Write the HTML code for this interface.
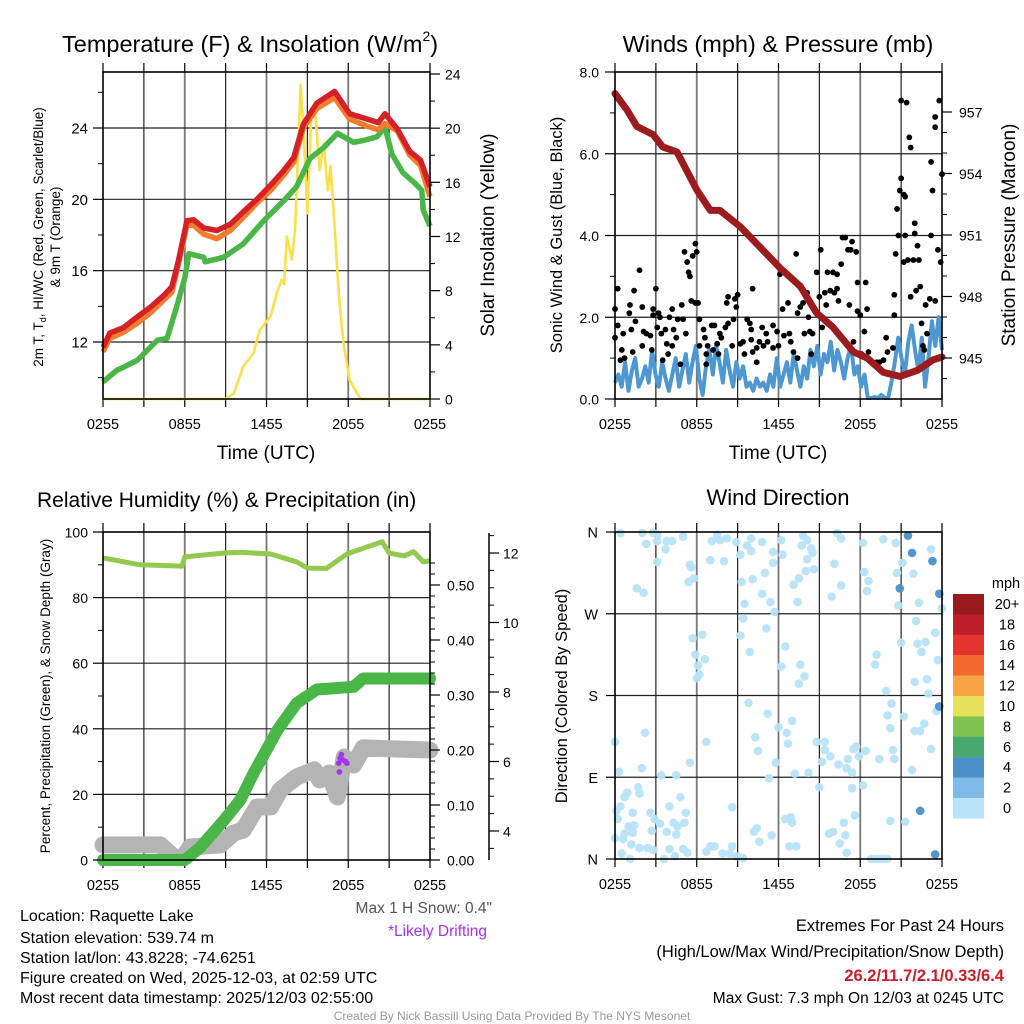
<!DOCTYPE html>
<html><head><meta charset="utf-8"><style>
html,body{margin:0;padding:0;background:#fff;}
svg{display:block;font-family:"Liberation Sans",Arial,sans-serif;}
</style></head><body>
<svg id="fig" width="1024" height="1024" viewBox="0 0 1024 1024" xmlns="http://www.w3.org/2000/svg">
<rect x="0" y="0" width="1024" height="1024" fill="#fff"/>
<g id="p1"></g>
<g id="p2"></g>
<g id="p3"></g>
<g id="p4"></g>
<g id="txt">
<text x="20" y="921" font-size="16">Location: Raquette Lake</text>
<text x="20" y="943" font-size="16">Station elevation: 539.74 m</text>
<text x="20" y="963" font-size="16">Station lat/lon: 43.8228; -74.6251</text>
<text x="20" y="983" font-size="16">Figure created on Wed, 2025-12-03, at 02:59 UTC</text>
<text x="20" y="1003" font-size="16">Most recent data timestamp: 2025/12/03 02:55:00</text>
<text x="492" y="913" font-size="15.5" fill="#555" text-anchor="end">Max 1 H Snow: 0.4"</text>
<text x="487" y="936" font-size="15.5" fill="#a433f0" text-anchor="end">*Likely Drifting</text>
<text x="1004" y="931" font-size="16.5" text-anchor="end">Extremes For Past 24 Hours</text>
<text x="1004" y="957" font-size="16.5" text-anchor="end">(High/Low/Max Wind/Precipitation/Snow Depth)</text>
<text x="1004" y="981" font-size="16.5" font-weight="bold" fill="#c8202a" text-anchor="end">26.2/11.7/2.1/0.33/6.4</text>
<text x="1004" y="1003" font-size="15.5" text-anchor="end">Max Gust: 7.3 mph On 12/03 at 0245 UTC</text>
<text x="512" y="1020" font-size="12" fill="#999" text-anchor="middle">Created By Nick Bassill Using Data Provided By The NYS Mesonet</text>
</g>
</svg>
<script>
// ---------- DATA ----------
const xTickLabels = ["0255","0855","1455","2055","0255"];
// Panel 1
const tempHours = [0,0.5,1.5,2.5,3.5,4.45,5.06,5.55,6.16,6.65,7.38,8.36,9.34,10.3,11.3,12.3,13.25,14.0,14.7,15.7,17.0,18.1,19.4,20.2,20.7,21.6,22.5,23.3,24];
const temp2m = [11.7,12.5,12.8,13.4,13.96,14.6,15.1,16.6,18.8,18.85,18.4,18.25,18.6,19.3,20.0,20.8,21.6,22.35,24.2,25.4,26.05,24.8,24.5,24.3,24.8,23.95,22.7,22.2,20.7];
const temp9m = [11.45,12.2,12.55,13.05,13.65,14.35,14.8,16.4,18.55,18.55,18.05,17.8,18.25,19.0,19.8,20.5,21.35,22.1,24.0,25.1,25.7,24.5,24.1,23.9,24.25,23.85,22.5,21.9,20.15];
const dewHours = [0,1.0,2.5,4.0,4.7,5.4,6.0,6.3,7.4,7.5,8.85,10.3,11.8,13.25,14.2,15.2,16.2,17.2,18.4,19.1,20.1,20.7,21.2,22.0,22.9,23.4,23.5,24];
const dewpoint = [9.76,10.4,10.97,12.1,12.2,13.96,15.6,16.95,16.75,16.5,16.75,17.5,18.8,19.9,20.7,22.3,22.9,23.7,23.2,23.3,23.5,24.05,22.55,21.5,20.9,20.5,19.4,18.5];
const solHours = [0,8.97,9.6,10.3,11.05,11.5,12.3,12.75,13.1,13.3,13.5,13.86,14.1,14.5,14.7,15.0,15.3,15.6,15.9,16.2,16.5,16.7,17.0,17.3,17.65,18.1,18.9,24];
const solar = [0,0,0.4,2.4,3.4,5.1,6.1,7.8,8.8,8.5,12,10.3,12.5,23.2,20.1,13.7,21.5,20.9,16.9,18.9,15.4,17.2,12.7,7.8,4.1,1.4,0,0];
// Panel 2
const presHours = [0,0.88,1.6,2.8,3.5,4.55,6.0,7.0,7.7,9.2,12.1,13.6,14.8,16.0,17.5,18.5,19.7,20.9,22.2,23.3,24];
const pressure = [957.9,957.1,956.3,955.9,955.3,955.05,953.2,952.2,952.2,951.4,949.4,948.5,947.2,946.5,945.3,945.0,944.3,944.1,944.4,944.9,945.05];
const sonicWind = [0.4,0.6,0.3,0.9,0.2,0.7,1.0,0.3,0.5,0.8,0.4,1.2,0.6,0.3,0.9,0.5,0.2,0.6,1.0,0.3,0.7,1.1,0.4,0.9,1.3,0.5,0.1,0.8,1.2,0.6,1.3,0.9,0.4,1.2,0.7,0.3,0.9,0.5,0.8,0.3,0.4,0.2,0.5,0.3,0.4,0.2,0.6,0.3,1.0,0.3,0.6,0.9,0.4,1.1,0.7,0.3,0.8,0.5,1.2,0.8,1.3,0.6,1.1,0.9,1.4,0.7,1.2,0.9,0.5,1.0,1.3,0.6,0.8,0.3,0.6,0.0,0.0,0.05,0.0,0.1,0.0,0.0,0.4,0.9,1.5,1.0,0.6,1.4,1.8,1.2,0.7,1.5,0.3,1.0,1.9,1.3,2.0,1.2];
const gustHours = [
0,0,0.2,0.2,0.5,0.6,0.4,0.7,1.1,1.05,
1.3,1.2,1.4,1.5,1.8,2.0,2.1,2.0,2.3,2.6,
2.8,2.8,3.0,2.7,3.2,3.1,3.3,3.4,3.5,3.7,
3.8,3.9,4.0,4.2,4.3,4.2,4.5,4.6,4.8,4.9,
5.0,5.1,5.2,5.3,5.4,5.5,5.7,5.6,5.9,6.0,
5.9,6.1,6.2,6.2,6.5,6.6,6.7,6.7,6.8,7.1,
7.3,7.2,7.5,7.7,7.8,7.6,8.1,8.2,8.3,8.3,
8.6,8.7,8.8,8.9,9.0,9.2,9.4,9.5,9.7,9.9,
10.0,10.1,10.0,10.1,10.4,10.4,10.6,10.8,10.9,11.1,
11.2,11.6,11.6,11.9,12.0,12.1,12.3,12.4,12.7,12.8,
12.9,13.1,13.3,13.4,13.4,13.6,13.8,13.9,14.1,14.2,
14.3,14.4,14.5,14.8,15.0,15.1,15.2,15.4,15.5,15.6,
15.8,16.0,16.3,16.1,16.3,16.4,16.6,16.7,16.9,17.1,
17.3,17.4,17.7,17.2,17.5,17.8,17.8,18.0,18.1,18.3,
18.4,18.5,18.6,19.2,19.4,19.7,19.9,20.0,20.4,20.5,
20.5,20.6,20.7,20.8,20.9,21.0,21.0,21.2,21.3,21.2,
21.3,21.4,21.5,21.6,21.7,21.7,21.9,22.0,22.0,22.1,
22.2,22.3,22.4,22.5,22.6,22.7,22.8,22.9,23.1,23.2,
23.2,23.3,23.5,23.5,23.5,23.7,23.8,23.9,24];
const gustSpeed = [
1.5,2.2,2.7,1.8,1.2,1.6,0.95,1.0,2.3,2.1,
1.15,1.7,2.65,1.9,3.15,2.25,1.65,1.3,1.6,1.55,
2.2,2.05,2.7,1.2,2.1,1.75,2.0,1.6,0.95,1.7,
1.35,1.1,2.0,2.2,1.7,1.3,1.5,1.95,0.85,2.3,
1.95,3.6,1.6,3.35,3.1,3.0,3.5,2.4,3.8,3.6,
2.35,2.35,1.95,1.3,1.7,1.5,0.85,1.1,1.3,1.8,
1.8,1.2,1.35,1.6,1.5,1.1,1.75,2.35,2.5,1.85,
1.3,1.95,2.45,2.25,2.55,1.35,1.4,1.1,1.95,1.85,
1.7,2.7,1.45,1.15,1.25,0.9,1.4,1.75,1.3,1.6,
1.4,1.8,1.25,1.65,1.3,3.05,2.2,1.55,2.35,1.6,
1.4,1.15,3.55,2.1,1.0,2.25,2.35,1.6,2.6,2.0,
1.65,1.1,1.6,3.1,2.5,3.65,1.75,2.6,2.3,3.1,
2.65,3.1,3.05,2.6,2.7,2.4,3.3,3.95,3.95,3.65,
3.65,3.85,3.6,2.3,1.4,2.85,2.15,2.05,1.1,1.65,
2.85,2.2,1.15,0.9,0.9,0.95,1.5,1.15,1.25,2.55,
2.05,3.55,4.65,4.0,5.1,5.4,7.3,5.0,4.95,3.35,
4.0,7.25,3.4,6.4,6.15,2.5,3.4,4.05,4.3,2.65,
3.75,3.4,2.75,1.85,1.3,1.2,2.3,1.6,2.45,4.0,
5.8,5.1,6.65,6.9,2.4,3.65,7.3,3.35,5.5];
// Panel 3
const rhHours = [0,2.7,5.8,6.0,8.9,10.1,12.3,14.2,15.0,16.4,17.9,19.4,20.5,21.0,22.1,22.8,23.5,24];
const humidity = [92.1,90.0,89.6,92.4,93.6,93.8,93.3,90.9,89.0,88.9,93.3,95.5,97.0,93.6,92.7,94.0,90.9,91.2];
const precipHours = [0,6.0,7.1,8.9,10.1,11.05,12.8,14.2,15.7,18.4,19.1,24];
const precip = [0,0,0.022,0.073,0.11,0.158,0.236,0.285,0.31,0.315,0.33,0.33];
const snowHours = [0,4.2,5.2,5.9,6.4,8.6,9.6,10.3,11.3,12.3,13.0,14.2,15.5,15.9,16.6,17.2,17.7,18.4,19.1,24];
const snowDepth = [3.6,3.6,3.25,3.25,3.54,3.6,3.94,4.03,4.69,4.69,5.18,5.55,5.76,5.47,5.67,4.98,6.13,5.9,6.39,6.33];
const driftHours = [17.3,17.4,17.5,17.6,17.8,17.9,17.35];
const driftDepth = [5.95,6.1,6.2,6.05,6.0,5.95,5.7];
// Panel 4
const dirHours = [0.4,2.0,2.3,2.8,3.1,3.1,3.7,3.8,4.2,5.0,3.1,1.6,2.1,5.5,5.6,5.4,5.8,7.1,7.5,7.7,8.2,7.0,8.0,8.9,9.2,10.0,9.7,10.0,10.8,11.6,12.2,12.3,11.6,11.0,10.1,9.3,9.5,10.8,11.4,11.7,13.1,13.5,13.4,13.8,14.1,13.7,14.4,14.5,14.1,14.0,14.6,16.3,16.6,16.1,16.6,15.9,18.2,18.3,18.6,18.5,19.7,20.6,20.7,20.9,20.8,21.1,21.5,21.8,21.9,22.3,23.2,23.3,23.8,24.0,
9.4,9.2,11.1,12.5,12.2,13.6,13.9,13.5,9.9,5.7,6.4,5.9,6.6,6.1,6.2,6.0,19.2,19.1,19.9,21.0,22.1,23.5,22.2,22.8,22.5,23.7,22.0,22.9,23.0,
9.8,11.2,12.0,13.0,12.6,12.7,10.3,10.5,11.8,11.3,13.2,14.2,14.8,15.4,15.4,15.8,15.2,16.4,17.1,17.5,17.7,18.4,17.9,17.0,17.4,19.4,20.5,20.4,20.2,20.0,20.3,21.2,22.0,22.4,22.7,23.2,23.6,23.8,21.8,2.2,0,0.3,1.96,3.4,4.5,5.5,6.7,
1.7,1.8,0.9,0.7,0.4,0.1,0.2,1.3,1.0,1.4,1.3,0.7,0.6,0,1.2,0.5,1.1,1.8,2.4,2.8,2.6,2.9,2.7,3.3,3.8,4.0,4.8,5.2,5.1,4.3,4.6,4.5,4.0,5.0,5.3,3.6,4.4,7.0,7.3,6.7,7.9,8.6,8.4,8.9,9.4,8.6,10.2,10.4,10.6,11.5,12.5,12.9,13.0,12.8,13.3,15.0,15.7,16.0,16.9,16.5,16.8,17.6,17.0,17.4,18.2,18.8,19.1,19.4,19.7,20.0,20.2,21.3,22.4,23.5,21.6];
const dirDeg = [359,359,347,359,357,350,341,350,350,355,327,298,293,324,321,305,309,350,357,351,353,329,328,349,335,353,345,339,349,338,351,335,326,315,308,305,281,292,283,272,302,309,283,356,351,345,342,337,330,317,319,359,353,325,301,289,348,316,306,295,352,348,315,298,279,326,356,337,314,282,341,328,292,276,
265,246,254,234,212,214,201,193,228,243,247,225,220,213,203,199,225,214,185,238,262,249,237,239,228,219,195,198,182,
172,160,145,152,139,127,134,119,106,89,94,95,129,129,120,113,107,104,110,121,124,119,113,100,95,110,110,120,144,158,171,157,141,141,149,121,163,168,98,139,129,96,100,92,92,106,129,
79,72,73,68,58,53,44,51,36,37,29,28,22,23,16,6,0,12,12,10,51,44,31,39,30,58,68,51,40,40,36,27,11,11,7,0,3,14,14,8,6,14,6,3,1,57,30,34,19,26,44,46,40,14,14,79,28,30,26,17,40,48,7,78,81,0,0,0,0,0,42,41,53,5];
const dirSpeed = [0,0,0,0,0,0,0,0,0,0,0,0,0,0,0,0,0,0,0,0,0,0,0,0,0,0,0,0,0,0,0,0,0,0,0,0,0,0,0,0,0,0,0,0,0,0,0,0,0,0,0,0,0,0,0,0,0,0,0,0,0,0,0,3,0,0,3,3,0,0,0,3,3,0,
0,0,0,0,0,0,0,0,0,0,0,0,0,0,0,0,0,0,0,0,0,0,0,0,0,0,0,0,0,
0,0,0,0,0,0,0,0,0,0,0,0,0,0,0,0,0,0,0,0,0,0,0,0,0,0,0,0,0,0,0,0,0,0,0,0,0,3,0,0,0,0,0,0,0,0,0,
0,0,0,0,0,0,0,0,0,0,0,0,0,0,0,0,0,0,0,0,0,0,0,0,0,0,0,0,0,0,0,0,0,0,0,0,0,0,0,0,0,0,0,0,0,0,0,0,0,0,0,0,0,0,0,0,0,0,0,0,0,0,0,0,0,0,0,0,0,0,0,0,3,4];
const legendLabels = ["20+","18","16","14","12","10","8","6","4","2","0"];
const legendColors = ["#961a1e","#bd1f2a","#e2352d","#f26a2e","#f8a546","#e7e05a","#80c24f","#48a870","#4b8fc8","#7fbbe6","#b8e3f8"];

// ---------- HELPERS ----------
const NS="http://www.w3.org/2000/svg";
function mk(parent,tag,attrs){const e=document.createElementNS(NS,tag);for(const k in attrs)e.setAttribute(k,attrs[k]);parent.appendChild(e);return e;}
function scale(d0,d1,r0,r1){return v=>r0+(v-d0)/(d1-d0)*(r1-r0);}
function pathOf(xs,ys,fx,fy){return xs.map((h,i)=>(i?"L":"M")+fx(h).toFixed(1)+","+fy(ys[i]).toFixed(1)).join("");}

function frame(g,X0,X1,Y0,Y1,hGrid){
  for(let h=3;h<24;h+=3){const x=X0+h/24*(X1-X0);
    const l=mk(g,"line",{x1:x,x2:x,y1:Y0,y2:Y1,stroke:h%6?"#222":"#777","stroke-width":h%6?1.2:1.8});
    
    }
  hGrid.forEach(y=>{const l=mk(g,"line",{x1:X0,x2:X1,y1:y,y2:y,stroke:"#222","stroke-width":1.2});
    
    });
  for(let h=0;h<=24;h+=3){const x=X0+h/24*(X1-X0);
    mk(g,"line",{x1:x,x2:x,y1:Y0,y2:Y0-9,stroke:"#000","stroke-width":1.2});
    mk(g,"line",{x1:x,x2:x,y1:Y1,y2:Y1+8,stroke:"#000","stroke-width":1.2});}
  xTickLabels.forEach((t,i)=>{const x=X0+i*6/24*(X1-X0);
    const e=mk(g,"text",{x:x,y:Y1+30,"font-size":14.5,"text-anchor":"middle"});e.textContent=t;
    
    });
}
function border(g,X0,X1,Y0,Y1){
  const r=mk(g,"rect",{x:X0,y:Y0,width:X1-X0,height:Y1-Y0,fill:"none",stroke:"#000","stroke-width":1.6});
  
  
}
function yTicks(g,x,dir,fy,majors,minors,labels,lx,anchor,fs){
  minors.forEach(v=>mk(g,"line",{x1:x,x2:x+dir*5,y1:fy(v),y2:fy(v),stroke:"#000","stroke-width":1}));
  majors.forEach((v,i)=>{mk(g,"line",{x1:x,x2:x+dir*10,y1:fy(v),y2:fy(v),stroke:"#000","stroke-width":1.2});
    if(labels){const t=mk(g,"text",{x:lx,y:fy(v)+5.5,"font-size":fs||15,"text-anchor":anchor});t.textContent=labels[i];
      
      }});
}
function txt(g,s,attrs,name){const t=mk(g,"text",attrs);t.textContent=s;
  
  return t;}
function rng(a,b,s){const r=[];for(let v=a;v<=b+1e-9;v+=s)r.push(+v.toFixed(4));return r;}

// ---------- PANEL 1 ----------
(function(){
  const g=document.getElementById("p1");const X0=103,X1=430,Y0=72,Y1=399;
  const fx=scale(0,24,X0,X1), fT=scale(12,24,342,128), fS=scale(0,24,399,74);
  frame(g,X0,X1,Y0,Y1,[12,16,20,24].map(fT));
  const so=mk(g,"path",{d:pathOf(solHours,solar,fx,fS),fill:"none",stroke:"#fbe04e","stroke-width":2.6,"stroke-linejoin":"round"});
  
  
  const dw=mk(g,"path",{d:pathOf(dewHours,dewpoint,fx,fT),fill:"none",stroke:"#4ab648","stroke-width":5.5,"stroke-linejoin":"round"});
  
  
  const t9=mk(g,"path",{d:pathOf(tempHours,temp9m,fx,fT),fill:"none",stroke:"#f57c2c","stroke-width":5.5,"stroke-linejoin":"round"});
  
  
  const t2=mk(g,"path",{d:pathOf(tempHours,temp2m,fx,fT),fill:"none",stroke:"#d42127","stroke-width":5.5,"stroke-linejoin":"round"});
  
  
  border(g,X0,X1,Y0,Y1);
  yTicks(g,X0,-1,fT,[12,16,20,24],[10,14,18,22,26],["12","16","20","24"],X0-15,"end",15);
  yTicks(g,X1,1,fS,rng(0,24,4),rng(2,22,4),rng(0,24,4).map(String),X1+15,"start",14);
  const ti=mk(g,"text",{x:62,y:52,"font-size":23.5});
  
  
  ti.innerHTML='Temperature (F) &amp; Insolation (W/m<tspan font-size="14" dy="-11">2</tspan><tspan dy="11">)</tspan>';
  txt(g,"Time (UTC)",{x:266,y:459,"font-size":19,"text-anchor":"middle"},"x-axis-title");
  const yl=mk(g,"text",{transform:"translate(43,237) rotate(-90)","font-size":13.5,"text-anchor":"middle"});
  
  
  yl.innerHTML='2m T, T<tspan font-size="9" dy="3">d</tspan><tspan dy="-3">, HI/WC (Red, Green, Scarlet/Blue)</tspan>';
  txt(g,"& 9m T (Orange)",{transform:"translate(60,237) rotate(-90)","font-size":13.5,"text-anchor":"middle"},"y-axis-title-2");
  txt(g,"Solar Insolation (Yellow)",{transform:"translate(494,235) rotate(-90)","font-size":19,"text-anchor":"middle"},"y2-axis-title");
})();

// ---------- PANEL 2 ----------
(function(){
  const g=document.getElementById("p2");const X0=615,X1=942,Y0=72,Y1=399;
  const fx=scale(0,24,X0,X1), fW=scale(0,8,399,72), fP=scale(945,957,358,112);
  frame(g,X0,X1,Y0,Y1,[2,4,6].map(fW));
  const n=sonicWind.length;
  const sw=mk(g,"path",{d:sonicWind.map((v,i)=>(i?"L":"M")+fx(i*24/(n-1)).toFixed(1)+","+Math.min(fW(v),398).toFixed(1)).join(""),fill:"none",stroke:"#4f97d0","stroke-width":4,"stroke-linejoin":"round"});
  
  
  const m=Math.min(gustHours.length,gustSpeed.length);
  for(let i=0;i<m;i++){const c=mk(g,"circle",{cx:fx(gustHours[i]),cy:fW(gustSpeed[i]),r:2.9,fill:"#000"});
    
    }
  const pr=mk(g,"path",{d:pathOf(presHours,pressure,fx,fP),fill:"none",stroke:"#9b1b1e","stroke-width":7,"stroke-linejoin":"round","stroke-linecap":"round"});
  
  
  border(g,X0,X1,Y0,Y1);
  yTicks(g,X0,-1,fW,[0,2,4,6,8],[1,3,5,7],["0.0","2.0","4.0","6.0","8.0"],X0-16,"end",14);
  yTicks(g,X1,1,fP,rng(945,957,3),rng(944,957,1),rng(945,957,3).map(String),X1+17,"start",14);
  txt(g,"Winds (mph) & Pressure (mb)",{x:778,y:52,"font-size":23.5,"text-anchor":"middle"},"panel-title");
  txt(g,"Time (UTC)",{x:778,y:459,"font-size":19,"text-anchor":"middle"},"x-axis-title");
  txt(g,"Sonic Wind & Gust (Blue, Black)",{transform:"translate(562,235) rotate(-90)","font-size":16.5,"text-anchor":"middle"},"y-axis-title");
  txt(g,"Station Pressure (Maroon)",{transform:"translate(1015,235) rotate(-90)","font-size":19,"text-anchor":"middle"},"y2-axis-title");
})();

// ---------- PANEL 3 ----------
(function(){
  const g=document.getElementById("p3");const X0=103,X1=430,Y0=532,Y1=860;
  const fx=scale(0,24,X0,X1), fR=scale(0,100,860,532), fPr=scale(0,0.5,860,585), fSn=scale(4,12,831,553);
  frame(g,X0,X1,Y0,Y1,[20,40,60,80].map(fR));
  const sn=mk(g,"path",{d:pathOf(snowHours,snowDepth,fx,fSn),fill:"none",stroke:"#b4b4b4","stroke-width":17,"stroke-linejoin":"round","stroke-linecap":"round"});
  
  
  const pp=mk(g,"path",{d:pathOf(precipHours,precip,fx,fPr),fill:"none",stroke:"#4ab648","stroke-width":12,"stroke-linejoin":"round","stroke-linecap":"round"});
  
  
  driftHours.forEach((h,i)=>{const c=mk(g,"circle",{cx:fx(h),cy:fSn(driftDepth[i]),r:2.8,fill:"#a433f0"});
    
    });
  const rh=mk(g,"path",{d:pathOf(rhHours,humidity,fx,fR),fill:"none",stroke:"#92c94e","stroke-width":5,"stroke-linejoin":"round"});
  
  
  border(g,X0,X1,Y0,Y1);
  yTicks(g,X0,-1,fR,rng(0,100,20),rng(10,90,20),rng(0,100,20).map(String),X0-15,"end",14);
  yTicks(g,X1,1,fPr,rng(0,0.5,0.1),rng(0,0.54,0.02),["0.00","0.10","0.20","0.30","0.40","0.50"],X1+17,"start",14);
  const ax=mk(g,"line",{x1:489,x2:489,y1:533,y2:860,stroke:"#000","stroke-width":1.5});
  
  
  yTicks(g,489,1,fSn,rng(4,12,2),rng(3.5,12.5,0.5),["4","6","8","10","12"],503,"start",14);
  txt(g,"Relative Humidity (%) & Precipitation (in)",{x:37,y:507,"font-size":21},"panel-title");
  txt(g,"Percent, Precipitation (Green), & Snow Depth (Gray)",{transform:"translate(50,696) rotate(-90)","font-size":13.5,"text-anchor":"middle"},"y-axis-title");
})();

// ---------- PANEL 4 ----------
(function(){
  const g=document.getElementById("p4");const X0=615,X1=942,Y0=532,Y1=859;
  const fx=scale(0,24,X0,X1), fD=scale(0,360,859,532);
  frame(g,X0,X1,Y0,Y1,[90,180,270].map(fD));
  const m=Math.min(dirHours.length,dirDeg.length);
  for(let i=0;i<m;i++){const c=mk(g,"circle",{cx:fx(dirHours[i]),cy:fD(dirDeg[i]),r:4.3,fill:legendColors[10-Math.round((dirSpeed[i]||0)/2)],"fill-opacity":0.95});
    
    }
  border(g,X0,X1,Y0,Y1);
  ["N","E","S","W","N"].forEach((l,i)=>{const v=i*90;mk(g,"line",{x1:X0,x2:X0-9,y1:fD(v),y2:fD(v),stroke:"#000","stroke-width":1.2});
    txt(g,l,{x:X0-17,y:fD(v)+5.5,"font-size":14.5,"text-anchor":"end"},"direction-tick-label");});
  txt(g,"Wind Direction",{x:778,y:505,"font-size":22,"text-anchor":"middle"},"panel-title");
  txt(g,"Direction (Colored By Speed)",{transform:"translate(567,696) rotate(-90)","font-size":16.5,"text-anchor":"middle"},"y-axis-title");
  const lg=mk(g,"g",{});
  
  
  txt(lg,"mph",{x:1006,y:588,"font-size":14.5,"text-anchor":"middle"},"legend-title");
  legendLabels.forEach((l,i)=>{const y=594+i*20.4;
    const r=mk(lg,"rect",{x:953,y:y,width:31,height:20.6,fill:legendColors[i]});
    
    
    txt(lg,l,{x:1007,y:y+15,"font-size":14.5,"text-anchor":"middle"},"legend-label");});
})();
</script>
</body></html>
